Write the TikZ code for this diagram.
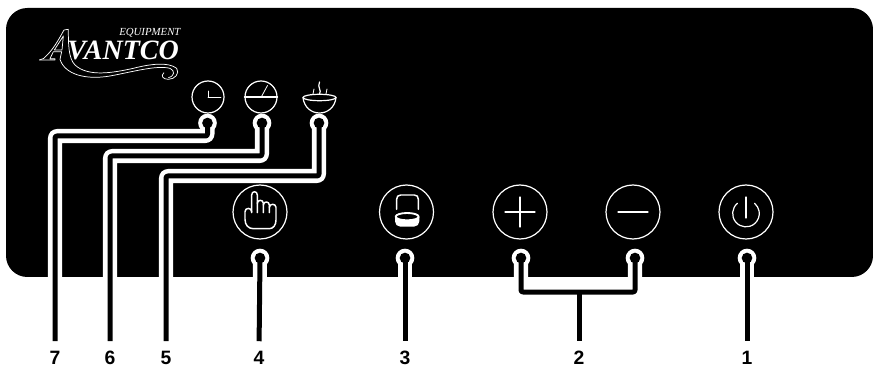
\documentclass[tikz,border=0pt]{standalone}
\usepackage{fontspec}
\setmainfont{Liberation Sans}
\newfontfamily\logofont{Liberation Serif}
\usetikzlibrary{positioning}
\tikzset{
  btn/.style={draw=white,line width=.9pt,circle,inner sep=0pt,minimum size=40.5pt},
  smallbtn/.style={draw=white,line width=.9pt,circle,inner sep=0pt,minimum size=24pt},
  icon/.style={draw=white,line width=.9pt,line cap=round,line join=round},
  fineicon/.style={icon,line width=.6pt},
  boldicon/.style={icon,line width=1.1pt},
  ringdot/.style={circle,fill=white,inner sep=0pt,minimum size=14pt},
  coredot/.style={circle,fill=black,inner sep=0pt,minimum size=8pt},
  leader/.style={draw=white,line width=3.4pt,double=black,double distance=3.75pt,
    line join=round,rounded corners=1.5pt,shorten >=6.8pt},
  stem/.style={draw=black,line width=3.75pt,shorten >=6.8pt},
  numlabel/.style={inner sep=0pt,font=\fontsize{14.5}{14.5}\selectfont\bfseries,text height=10.4pt,text depth=0pt},
  logoline/.style={draw=white,line width=.55pt,line join=round}
}
\begin{document}
\begin{tikzpicture}[x=.75pt,y=-.75pt]
  \useasboundingbox (0,0) rectangle (873,366);
  \fill[black,rounded corners=16pt] (6,8) rectangle (873,277);

  \node[text=white,inner sep=0pt,anchor=base west,font=\logofont\itshape\fontsize{8.1}{8.1}\selectfont] (equip) at (119,36) {EQUIPMENT};
  \node[text=white,inner sep=0pt,anchor=base west,font=\logofont\itshape\bfseries\fontsize{21}{21}\selectfont] (brand) at (67,60) {VANTCO};
  \begin{scope}[x=.25pt,y=-.25pt]
    \draw[logoline] (118,180) -- (130,176) .. controls (160,150) and (175,120) .. (192,90) -- (205,88)
      .. controls (205,130) and (205,175) .. (225,195) .. controls (265,232) and (340,218) .. (400,205)
      .. controls (450,192) and (505,185) .. (530,205) .. controls (540,220) and (525,238) .. (505,238)
      .. controls (490,238) and (480,228) .. (492,218);
    \draw[logoline] (118,180) -- (165,180) -- (165,176) -- (150,176) -- (160,155) -- (185,155) -- (180,178)
      .. controls (195,225) and (260,240) .. (330,228) .. controls (400,215) and (470,195) .. (510,205)
      .. controls (525,212) and (525,228) .. (505,233);
    \draw[logoline] (163,150) -- (190,108) -- (186,150) -- cycle;
  \end{scope}

  \node[smallbtn] (clock) at (208,97) {};
  \node[smallbtn] (gauge) at (261,97) {};
  \node[btn] (hand) at (260,212) {};
  \node[btn] (pot) at (406.5,212) {};
  \node[btn] (plus) at (520,212) {};
  \node[btn] (minus) at (633,212) {};
  \node[btn] (power) at (746,212) {};

  \draw[fineicon] (clock.center) -- ++(13,0);
  \draw[fineicon] (clock.center) -- ++(0,-6);
  \draw[icon] (gauge.west) -- (gauge.east);
  \draw[fineicon] (gauge.center) ++(0,.5) -- ++(6.5,-12);
  \draw[icon] (plus.center) ++(-15,0) -- ++(30,0);
  \draw[icon] (plus.center) ++(0,-15) -- ++(0,30);
  \draw[icon] (minus.center) ++(-15,0) -- ++(30,0);
  \draw[icon] (power.center) ++(0,-15) -- ++(0,21);
  \draw[icon] (power.center) ++(-8.6,-8.7) arc[start angle=130,end angle=410,radius=10pt];

  \draw[icon] (303,97.5) .. controls (304,107) and (311,113) .. (319.5,113) .. controls (328,113) and (335,107) .. (336,97.5);
  \draw[icon] (319.5,97.5) ellipse [x radius=16.5,y radius=3.2];
  \draw[icon] (319.5,94) .. controls (322,90) and (317,88) .. (319.5,82);
  \draw[fineicon] (313,94) .. controls (315,92) and (312,91) .. (314,89);
  \draw[fineicon] (326,94) .. controls (328,92) and (325,91) .. (327,89);

  \begin{scope}[shift={(200,170)},x=.25pt,y=-.25pt]
    \draw[boldicon] (155,128) -- (155,75) .. controls (155,62) and (172,62) .. (172,75) -- (172,128);
    \draw[boldicon] (172,100) .. controls (172,88) and (190,88) .. (190,100) -- (190,128);
    \draw[boldicon] (190,105) .. controls (190,93) and (208,93) .. (208,105) -- (208,128);
    \draw[boldicon] (208,112) .. controls (208,100) and (228,100) .. (228,112) -- (228,150)
      .. controls (228,165) and (220,176) .. (208,176) -- (160,176) .. controls (145,176) and (135,165) .. (135,148)
      -- (135,125) .. controls (135,112) and (155,112) .. (155,125);

    \draw[boldicon] (590,118) -- (590,88) .. controls (590,80) and (594,75) .. (602,75) -- (643,75)
      .. controls (651,75) and (655,80) .. (655,88) -- (655,118);
    \draw[icon,fill=white] (587,140) -- (587,154) .. controls (587,162) and (593,168) .. (601,168) -- (642,168)
      .. controls (650,168) and (656,162) .. (656,154) -- (656,140) -- cycle;
    \draw[icon,fill=black,line width=1.4pt] (621.5,140) ellipse [x radius=34.5,y radius=11];
  \end{scope}

  \node[numlabel] (num7) at (55,357.5) {7};
  \node[numlabel] (num6) at (110,357.5) {6};
  \node[numlabel] (num5) at (166,357.5) {5};
  \node[numlabel] (num4) at (259,357.5) {4};
  \node[numlabel] (num3) at (405,357.5) {3};
  \node[numlabel] (num2) at (579,357.5) {2};
  \node[numlabel] (num1) at (747,357.5) {1};

  \node[ringdot] (ring7) at (207.5,123) {};
  \node[ringdot] (ring6) at (262,123) {};
  \node[ringdot] (ring5) at (319,123) {};
  \node[ringdot] (ring4) at (260,258) {};
  \node[ringdot] (ring3) at (405,258) {};
  \node[ringdot] (ring2a) at (521,258) {};
  \node[ringdot] (ring2b) at (635,258) {};
  \node[ringdot] (ring1) at (747,258) {};
  \coordinate (join2) at (num2 |- 0,292);

  \draw[leader] (ring7.center) -- (ring7 |- 0,136) -| (num7.north);
  \draw[leader] (ring6.center) -- (ring6 |- 0,156) -| (num6.north);
  \draw[leader] (ring5.center) -- (ring5 |- 0,176) -| (num5.north);
  \draw[leader] (ring4.center) -- (num4.north);
  \draw[leader] (ring3.center) -- (num3.north);
  \draw[leader] (ring1.center) -- (num1.north);
  \draw[leader,shorten >=0pt] (ring2a.center) |- (join2) -| (ring2b.center);
  \draw[stem] (join2) -- (num2.north);

  \node[coredot] (core7) at (ring7) {};
  \node[coredot] (core6) at (ring6) {};
  \node[coredot] (core5) at (ring5) {};
  \node[coredot] (core4) at (ring4) {};
  \node[coredot] (core3) at (ring3) {};
  \node[coredot] (core2a) at (ring2a) {};
  \node[coredot] (core2b) at (ring2b) {};
  \node[coredot] (core1) at (ring1) {};
\end{tikzpicture}
\end{document}
